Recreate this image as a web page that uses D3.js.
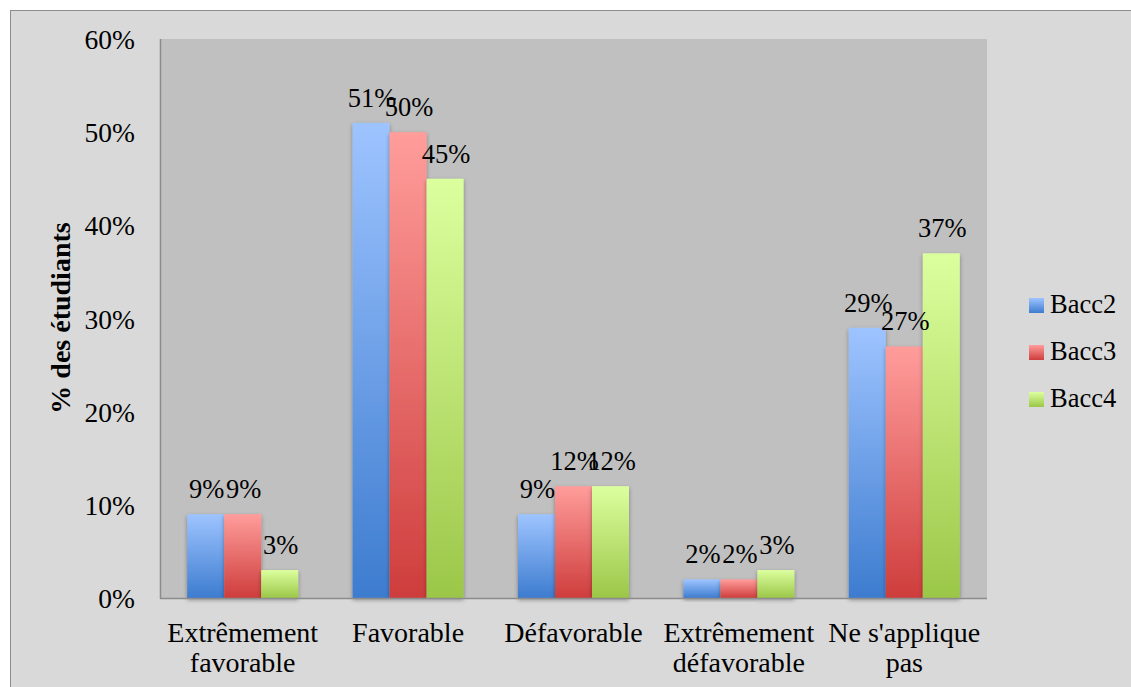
<!DOCTYPE html>
<html>
<head>
<meta charset="utf-8">
<script src="https://cdn.jsdelivr.net/npm/d3@7/dist/d3.min.js"></script>
<style>
  html, body { margin: 0; padding: 0; background: #ffffff; }
  svg { display: block; }
  text { font-family: "Liberation Serif", "DejaVu Serif", serif; fill: #000; }
</style>
</head>
<body>
<svg id="chart" width="1131" height="687"></svg>
<script>
// Réponses des étudiants par niveau (en %)
const categories = [["Extrêmement", "favorable"], ["Favorable"], ["Défavorable"], ["Extrêmement", "défavorable"], ["Ne s'applique", "pas"]];
const seriesNames = ["Bacc2", "Bacc3", "Bacc4"];
const bacc2 = [9, 51, 9, 2, 29];
const bacc3 = [9, 50, 12, 2, 27];
const bacc4 = [3, 45, 12, 3, 37];
const yTicks = [0, 10, 20, 30, 40, 50, 60];

const seriesValues = [bacc2, bacc3, bacc4];
const gradStops = [
  ["#9ec4ff", "#3d7ccf"],
  ["#ff9d9b", "#ce3d3c"],
  ["#dcff9e", "#9bc748"]
];

const svg = d3.select("#chart");
const W = 1131, H = 687;
const plot = { left: 160, top: 39, right: 987, bottom: 598 };

// Gradients and shadow
const defs = svg.append("defs");
gradStops.forEach((s, i) => {
  const g = defs.append("linearGradient").attr("id", "grad" + i)
    .attr("x1", 0).attr("y1", 0).attr("x2", 0).attr("y2", 1);
  g.append("stop").attr("offset", "0%").attr("stop-color", s[0]);
  g.append("stop").attr("offset", "100%").attr("stop-color", s[1]);
});
const f = defs.append("filter").attr("id", "shadow").attr("x", "-20%").attr("y", "-20%").attr("width", "140%").attr("height", "140%");
f.append("feDropShadow").attr("dx", 0).attr("dy", 2).attr("stdDeviation", 2).attr("flood-color", "#000").attr("flood-opacity", 0.35);

// Chart background and border
svg.append("rect").attr("x", 0).attr("y", 0).attr("width", W).attr("height", H).attr("fill", "#ffffff");
svg.append("rect").attr("x", 10.5).attr("y", 10.5).attr("width", W + 10).attr("height", H + 10)
  .attr("fill", "#d9d9d9").attr("stroke", "#8c8c8c").attr("stroke-width", 1);

// Plot area
svg.append("rect").attr("x", plot.left).attr("y", plot.top)
  .attr("width", plot.right - plot.left).attr("height", plot.bottom - plot.top)
  .attr("fill", "#c0c0c0");

const x0 = d3.scaleBand().domain(d3.range(categories.length)).range([plot.left, plot.right]).paddingInner(0).paddingOuter(0);
const barW = 37;
const x1 = d3.scaleBand().domain(d3.range(seriesNames.length)).range([0, barW * 3]);
const y = d3.scaleLinear().domain([0, 60]).range([plot.bottom, plot.top]);

// Bars
seriesValues.forEach((vals, si) => {
  const g = svg.append("g");
  g.selectAll("rect").data(vals).join("rect")
    .attr("x", (d, i) => x0(i) + (x0.bandwidth() - barW * 3) / 2 + x1(si))
    .attr("y", d => y(d))
    .attr("width", x1.bandwidth())
    .attr("height", d => y(0) - y(d))
    .attr("fill", `url(#grad${si})`)
    .attr("filter", "url(#shadow)");
});

// Value labels
seriesValues.forEach((vals, si) => {
  svg.append("g").selectAll("text").data(vals).join("text")
    .attr("x", (d, i) => x0(i) + (x0.bandwidth() - barW * 3) / 2 + x1(si) + x1.bandwidth() / 2 + 1)
    .attr("y", d => y(d) - 16)
    .attr("text-anchor", "middle")
    .attr("font-size", 26.5)
    .text(d => d + "%");
});

// Axes lines
svg.append("line").attr("x1", plot.left + 0.5).attr("x2", plot.left + 0.5)
  .attr("y1", plot.top).attr("y2", plot.bottom + 1).attr("stroke", "#8c8c8c").attr("stroke-width", 1.5);
svg.append("line").attr("x1", plot.left).attr("x2", plot.right)
  .attr("y1", plot.bottom + 0.5).attr("y2", plot.bottom + 0.5).attr("stroke", "#8c8c8c").attr("stroke-width", 1.5);

// Y tick labels
svg.append("g").selectAll("text").data(yTicks).join("text")
  .attr("x", 135)
  .attr("y", d => y(d) + 10)
  .attr("text-anchor", "end")
  .attr("font-size", 27.5)
  .text(d => d + "%");

// Y axis title
svg.append("text")
  .attr("transform", `translate(70, 318) rotate(-90)`)
  .attr("text-anchor", "middle")
  .attr("font-size", 28)
  .attr("font-weight", "bold")
  .text("% des étudiants");

// Category labels
categories.forEach((lines, i) => {
  const t = svg.append("text")
    .attr("x", x0(i) + x0.bandwidth() / 2)
    .attr("y", 642)
    .attr("text-anchor", "middle")
    .attr("font-size", 28);
  lines.forEach((ln, k) => {
    t.append("tspan").attr("x", x0(i) + x0.bandwidth() / 2).attr("dy", k === 0 ? 0 : 30).text(ln);
  });
});

// Legend
const legend = svg.append("g");
seriesNames.forEach((name, i) => {
  const top = 298 + i * 47;
  legend.append("rect").attr("x", 1029).attr("y", top).attr("width", 15).attr("height", 15)
    .attr("fill", `url(#grad${i})`);
  legend.append("text").attr("x", 1050).attr("y", top + 15).attr("font-size", 26.5).text(name);
});
</script>
</body>
</html>
